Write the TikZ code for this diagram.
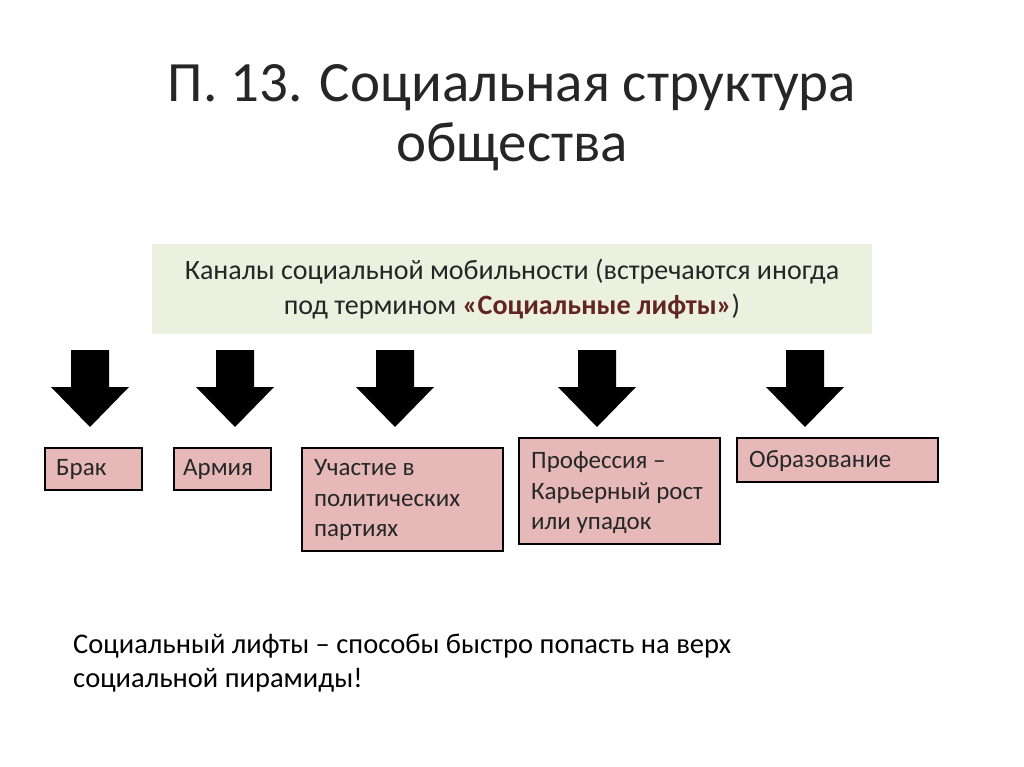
\documentclass[tikz,border=0pt]{standalone}
\usepackage{fontspec}
\setmainfont{Carlito}
\definecolor{grn}{RGB}{235,241,222}
\definecolor{pnk}{RGB}{230,185,184}
\definecolor{dred}{RGB}{99,37,35}
\definecolor{txt}{RGB}{38,38,38}
\begin{document}
\begin{tikzpicture}[x=1pt,y=-1pt,
  box/.style={draw=black,line width=1.6pt,fill=pnk},
  btxt/.style={text=txt,font=\fontsize{25}{30.5}\selectfont,align=left,inner sep=0pt},
  darrow/.style={fill=black}]
\useasboundingbox (0,0) rectangle (1024,767);
\node[font=\fontsize{57}{60}\selectfont,text=txt,align=center] (title) at (512,118) {П. 13. Социальная структура\\общества};
\node[fill=grn,minimum width=720pt,minimum height=90pt,anchor=north west,inner sep=0pt] (g) at (152,244) {};
\node[align=center,text=txt,font=\fontsize{28}{35}\selectfont] (gt) at (512,289) {Каналы социальной мобильности (встречаются иногда\\под термином {\color{dred}\bfseries«Социальные лифты»})};
\foreach \n/\cx in {a1/90,a2/235,a3/395,a4/597,a5/805}{
  \fill[darrow] (\cx-19,350) -- (\cx+19,350) -- (\cx+19,387) -- (\cx+39,387) -- (\cx,427) -- (\cx-39,387) -- (\cx-19,387) -- cycle;
}
\draw[box] (45,448) rectangle (142,490);
\node[btxt,anchor=west] (b1) at (56,469) {Брак};
\draw[box] (174,448) rectangle (271,490);
\node[btxt,anchor=west] (b2) at (183,469) {Армия};
\draw[box] (302,448) rectangle (503,551);
\node[btxt,anchor=west] (b3) at (314,500) {Участие в\\политических\\партиях};
\draw[box] (519,438) rectangle (720,544);
\node[btxt,anchor=west] (b4) at (531,493) {Профессия –\\Карьерный рост\\или упадок};
\draw[box] (737,438) rectangle (938,482);
\node[btxt,anchor=west] (b5) at (749,461) {Образование};
\node[text=black,font=\fontsize{28.5}{34}\selectfont,anchor=west,align=left,inner sep=0pt] (bt) at (73,663) {Социальный лифты – способы быстро попасть на верх\\социальной пирамиды!};
\end{tikzpicture}
\end{document}
